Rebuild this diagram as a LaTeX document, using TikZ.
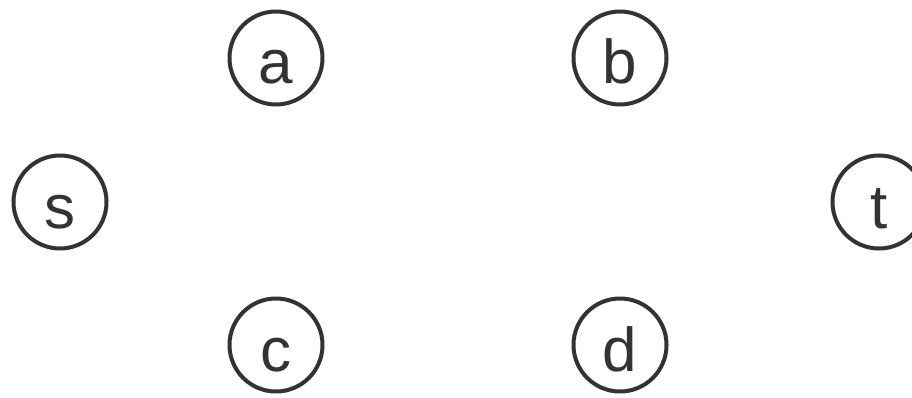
\documentclass[tikz,border=0pt]{standalone}
\usepackage{fontspec}
\setmainfont{Liberation Sans}
\definecolor{ink}{HTML}{333336}
\begin{document}
\begin{tikzpicture}[x=1pt,y=-1pt,
  vert/.style={circle,draw=ink,line width=4pt,text=ink,minimum size=93pt,inner sep=0pt,
    text height=52pt,text depth=0pt,font=\fontsize{62}{62}\selectfont}]
\useasboundingbox (0,0) rectangle (912,398);
\node[vert] (a) at (276,58) {a};
\node[vert] (b) at (620,58) {b};
\node[vert] (s) at (60,202) {s};
\node[vert] (t) at (879,202) {t};
\node[vert] (c) at (276,345) {c};
\node[vert] (d) at (620,345) {d};
\end{tikzpicture}
\end{document}
